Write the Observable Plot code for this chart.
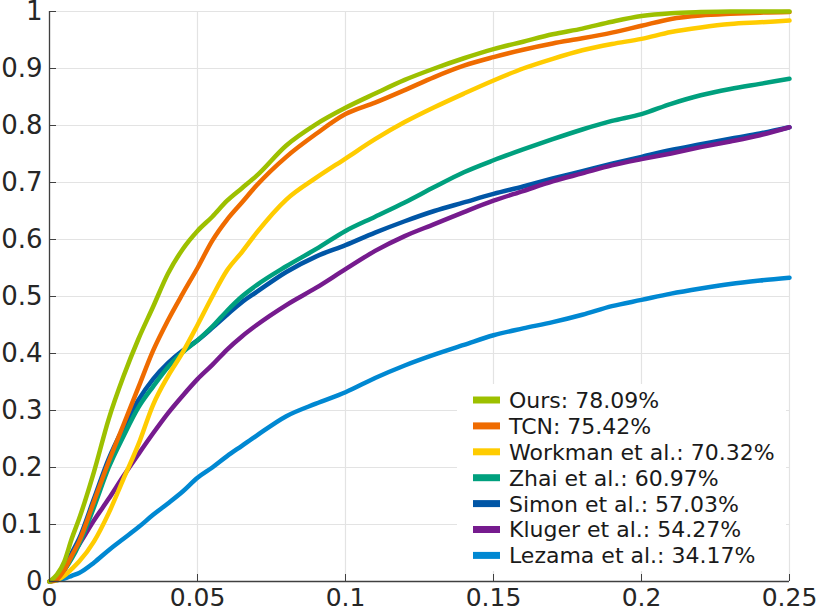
<!DOCTYPE html>
<html>
<head>
<meta charset="utf-8">
<script src="https://cdn.jsdelivr.net/npm/d3@7"></script>
<script src="https://cdn.jsdelivr.net/npm/@observablehq/plot@0.6"></script>
<style>
  html, body { margin: 0; padding: 0; background: #fff; }
  #chart { width: 821px; height: 610px; }
</style>
</head>
<body>
<div id="chart"></div>
<script>
const xs = [0,0.0025,0.005,0.0075,0.01,0.015,0.02,0.025,0.03,0.035,0.04,0.045,0.05,0.055,0.06,0.065,0.07,0.08,0.09,0.1,0.11,0.12,0.13,0.14,0.15,0.16,0.17,0.18,0.19,0.2,0.21,0.22,0.23,0.24,0.25];

const ours    = [0,0.012,0.035,0.075,0.11,0.192,0.285,0.36,0.425,0.482,0.54,0.583,0.615,0.64,0.668,0.69,0.712,0.765,0.802,0.831,0.856,0.88,0.9,0.918,0.934,0.947,0.96,0.97,0.982,0.992,0.997,0.999,1,1,1];
const tcn     = [0,0.004,0.02,0.045,0.07,0.14,0.21,0.275,0.34,0.405,0.458,0.505,0.55,0.598,0.635,0.665,0.695,0.745,0.785,0.82,0.84,0.862,0.885,0.905,0.92,0.933,0.944,0.953,0.963,0.975,0.987,0.993,0.996,0.998,0.999];
const workman = [0,0.002,0.01,0.022,0.035,0.07,0.12,0.18,0.24,0.31,0.36,0.402,0.45,0.5,0.546,0.578,0.612,0.67,0.708,0.742,0.776,0.806,0.832,0.856,0.879,0.9,0.917,0.932,0.943,0.952,0.964,0.972,0.978,0.981,0.984];
const zhai    = [0,0.005,0.02,0.04,0.065,0.13,0.2,0.255,0.305,0.342,0.376,0.402,0.423,0.447,0.475,0.5,0.52,0.553,0.583,0.615,0.64,0.665,0.692,0.718,0.739,0.758,0.776,0.793,0.808,0.82,0.838,0.853,0.864,0.873,0.882];
const simon   = [0,0.006,0.025,0.05,0.075,0.145,0.215,0.27,0.318,0.355,0.383,0.405,0.423,0.445,0.468,0.49,0.508,0.543,0.57,0.59,0.612,0.632,0.65,0.665,0.68,0.693,0.707,0.72,0.733,0.745,0.757,0.767,0.777,0.786,0.797];
const kluger  = [0,0.005,0.02,0.045,0.065,0.107,0.145,0.185,0.223,0.26,0.295,0.326,0.355,0.38,0.407,0.43,0.45,0.485,0.515,0.548,0.58,0.606,0.627,0.648,0.668,0.685,0.702,0.716,0.73,0.741,0.751,0.762,0.772,0.783,0.797];
const lezama  = [0,0.002,0.005,0.01,0.015,0.033,0.055,0.075,0.095,0.117,0.137,0.158,0.182,0.2,0.22,0.238,0.256,0.29,0.312,0.332,0.357,0.379,0.398,0.415,0.432,0.444,0.455,0.468,0.483,0.494,0.505,0.514,0.522,0.528,0.533];

const seriesNames  = ["Ours", "TCN", "Workman et al.", "Zhai et al.", "Simon et al.", "Kluger et al.", "Lezama et al."];
const seriesScores = ["78.09%", "75.42%", "70.32%", "60.97%", "57.03%", "54.27%", "34.17%"];
const seriesValues = [ours, tcn, workman, zhai, simon, kluger, lezama];
const seriesColors = ["#9dc000", "#ef6b00", "#ffcc00", "#00a07e", "#0056a6", "#761b8e", "#0088d2"];
const drawOrder    = ["Lezama et al.", "Simon et al.", "Kluger et al.", "Zhai et al.", "Workman et al.", "TCN", "Ours"];

const xTicks = [0, 0.05, 0.1, 0.15, 0.2, 0.25];
const xTickLabels = ["0", "0.05", "0.1", "0.15", "0.2", "0.25"];
const yTicks = [0, 0.1, 0.2, 0.3, 0.4, 0.5, 0.6, 0.7, 0.8, 0.9, 1];
const yTickLabels = ["0", "0.1", "0.2", "0.3", "0.4", "0.5", "0.6", "0.7", "0.8", "0.9", "1"];

const rows = [];
for (const name of drawOrder) {
  const i = seriesNames.indexOf(name);
  seriesValues[i].forEach((v, j) => rows.push({series: name, x: xs[j], y: v}));
}

const axisColor = "#404040";
const textColor = "#262626";
const font = "DejaVu Sans";

const plot = Plot.plot({
  width: 821,
  height: 610,
  marginLeft: 49,
  marginRight: 32,
  marginTop: 11,
  marginBottom: 29,
  style: {fontFamily: font, background: "#fff", overflow: "visible"},
  x: {domain: [0, 0.25], label: null},
  y: {domain: [0, 1], label: null},
  color: {domain: seriesNames, range: seriesColors},
  marks: [
    Plot.gridX(xTicks, {stroke: "#e3e3e3", strokeOpacity: 1, strokeWidth: 1.2}),
    Plot.gridY(yTicks, {stroke: "#e3e3e3", strokeOpacity: 1, strokeWidth: 1.2}),
    Plot.line(rows, {x: "x", y: "y", z: "series", stroke: "series", strokeWidth: 4.5, curve: "monotone-x", strokeLinejoin: "round", strokeLinecap: "round"}),
    Plot.ruleX([0], {stroke: axisColor, strokeWidth: 1.3}),
    Plot.ruleY([0], {stroke: axisColor, strokeWidth: 1.3}),
    Plot.axisX(xTicks, {tickSize: -7, tickPadding: 14, stroke: axisColor, tickFormat: (d, i) => xTickLabels[i], fontSize: 25, fill: textColor, label: null}),
    Plot.axisY(yTicks, {tickSize: -7, tickPadding: 14, stroke: axisColor, tickFormat: (d, i) => yTickLabels[i], fontSize: 26, fill: textColor, label: null}),
  ]
});

// Legend inside the plot (bottom-right), positioned from the plot's own scales
const sx = plot.scale("x"), sy = plot.scale("y");
const right = sx.range[1];
const bottom = sy.range[0];
const svg = d3.select(plot);
const lg = svg.append("g").attr("class", "legend").attr("text-anchor", "start");
const boxLeft = right - 332, boxTop = bottom - 197, boxW = 329, boxH = 187;
lg.append("rect").attr("x", boxLeft).attr("y", boxTop).attr("width", boxW).attr("height", boxH).attr("fill", "#fff");
seriesNames.forEach((name, i) => {
  const cy = boxTop + 16 + i * 25.9;
  lg.append("line")
    .attr("x1", boxLeft + 16).attr("x2", boxLeft + 43)
    .attr("y1", cy).attr("y2", cy)
    .attr("stroke", seriesColors[i]).attr("stroke-width", 7);
  lg.append("text")
    .attr("x", boxLeft + 52).attr("y", cy)
    .attr("dy", "0.36em")
    .attr("text-anchor", "start")
    .attr("font-family", font).attr("font-size", 22)
    .attr("fill", "#1a1a1a")
    .text(`${name}: ${seriesScores[i]}`);
});

document.getElementById("chart").appendChild(plot);
</script>
</body>
</html>
